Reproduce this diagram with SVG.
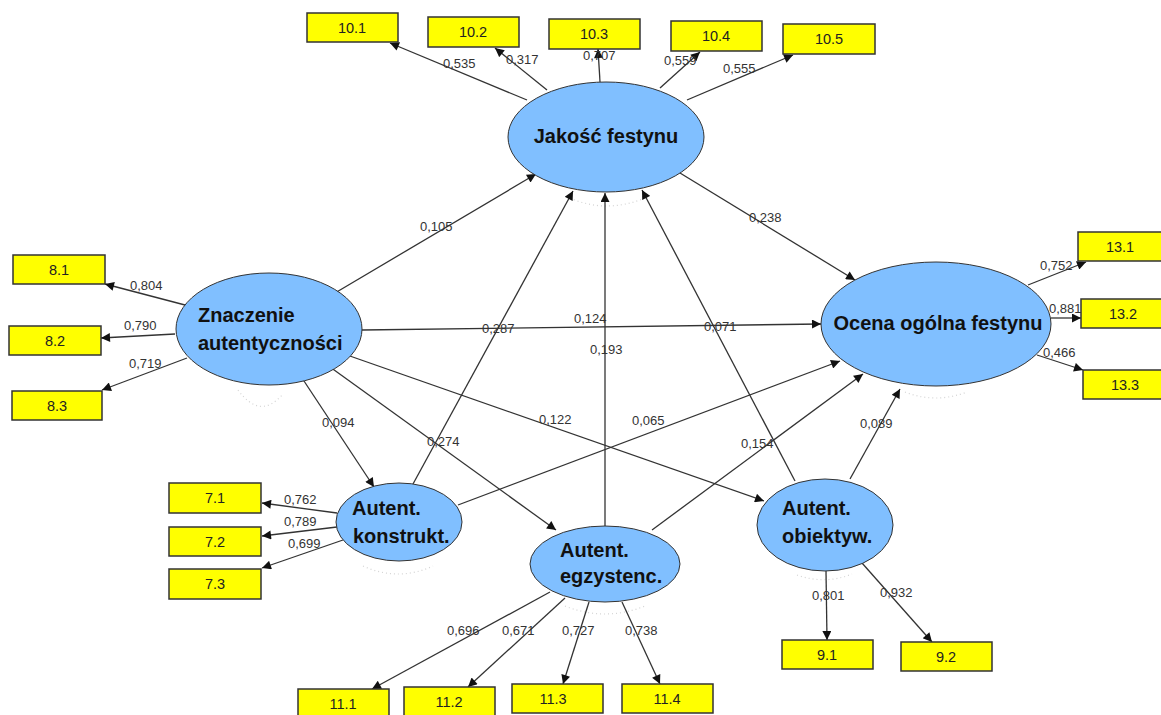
<svg xmlns="http://www.w3.org/2000/svg" width="1161" height="715" viewBox="0 0 1161 715">
<defs>
<marker id="ah" viewBox="0 0 10 10" refX="10" refY="5" markerWidth="11" markerHeight="9" markerUnits="userSpaceOnUse" orient="auto"><path d="M0,0 L10,5 L0,10 z" fill="#111"/></marker>
<style>
.c line{stroke:#333;stroke-width:1.3;marker-end:url(#ah)}
.lv{stroke:#333;stroke-width:1;fill:#80BFFF}
.lt{font-family:"Liberation Sans",Arial,sans-serif;font-weight:bold;font-size:20px;fill:#111}
.bx{fill:#FFFF00;stroke:#333;stroke-width:1.5}
.bt{font-family:"Liberation Sans",Arial,sans-serif;font-size:14.5px;fill:#222;text-anchor:middle}
.w{font-family:"Liberation Sans",Arial,sans-serif;font-size:13px;fill:#333}
.sh{fill:none;stroke:#d4d4d4;stroke-width:1.2;stroke-dasharray:1 3}
</style>
</defs>
<rect width="1161" height="715" fill="#fff"/>
<g id="shadows">
<path class="sh" d="M570,198 Q606,214 645,198"/>
<path class="sh" d="M238,390 Q260,420 282,395"/>
<path class="sh" d="M363,566 Q398,582 433,566"/>
<path class="sh" d="M565,606 Q605,622 645,606"/>
<path class="sh" d="M797,575 Q825,585 852,574"/>
<path class="sh" d="M905,392 Q935,404 967,392"/>
</g>
<g id="connectors" class="c">
<line x1="335" y1="293" x2="536" y2="174"/>
<line x1="413" y1="484" x2="573" y2="191"/>
<line x1="605" y1="527" x2="605" y2="193"/>
<line x1="795" y1="481" x2="642" y2="190"/>
<line x1="680" y1="173" x2="855" y2="280"/>
<line x1="362" y1="330" x2="821" y2="324"/>
<line x1="458" y1="505" x2="840" y2="361"/>
<line x1="652" y1="530" x2="863" y2="374"/>
<line x1="850" y1="479" x2="900" y2="389"/>
<line x1="302" y1="378" x2="374" y2="487"/>
<line x1="330" y1="367" x2="556" y2="530"/>
<line x1="347" y1="355" x2="764" y2="501"/>
<line x1="527" y1="100" x2="390" y2="43"/>
<line x1="547" y1="90" x2="495" y2="48"/>
<line x1="600" y1="82" x2="598" y2="49"/>
<line x1="660" y1="88" x2="700" y2="52"/>
<line x1="687" y1="100" x2="793" y2="55"/>
<line x1="185" y1="305" x2="105" y2="284"/>
<line x1="175" y1="334" x2="101" y2="338"/>
<line x1="187" y1="358" x2="102" y2="390"/>
<line x1="337" y1="513" x2="262" y2="503"/>
<line x1="337" y1="527" x2="262" y2="536"/>
<line x1="343" y1="540" x2="262" y2="568"/>
<line x1="550" y1="592" x2="372" y2="689"/>
<line x1="565" y1="598" x2="468" y2="687"/>
<line x1="589" y1="602" x2="563" y2="684"/>
<line x1="622" y1="602" x2="660" y2="684"/>
<line x1="826" y1="571" x2="827" y2="640"/>
<line x1="862" y1="563" x2="932" y2="642"/>
<line x1="1028" y1="285" x2="1086" y2="262"/>
<line x1="1051" y1="318" x2="1081" y2="318"/>
<line x1="1037" y1="355" x2="1083" y2="370"/>
</g>
<g id="weights" class="w">
<text x="443" y="68">0,535</text>
<text x="506" y="64">0,317</text>
<text x="583" y="60">0,707</text>
<text x="664" y="65">0,559</text>
<text x="723" y="73">0,555</text>
<text x="420" y="231">0,105</text>
<text x="482" y="333">0,287</text>
<text x="574" y="323">0,124</text>
<text x="590" y="354">0,193</text>
<text x="704" y="331">0,071</text>
<text x="539" y="424">0,122</text>
<text x="632" y="425">0,065</text>
<text x="322" y="427">0,094</text>
<text x="427" y="446">0,274</text>
<text x="749" y="222">0,238</text>
<text x="741" y="448">0,154</text>
<text x="860" y="428">0,089</text>
<text x="130" y="290">0,804</text>
<text x="124" y="330">0,790</text>
<text x="129" y="368">0,719</text>
<text x="284" y="504">0,762</text>
<text x="284" y="526">0,789</text>
<text x="288" y="548">0,699</text>
<text x="447" y="635">0,696</text>
<text x="502" y="635">0,671</text>
<text x="562" y="635">0,727</text>
<text x="625" y="635">0,738</text>
<text x="812" y="600">0,801</text>
<text x="880" y="597">0,932</text>
<text x="1040" y="270">0,752</text>
<text x="1049" y="313">0,881</text>
<text x="1043" y="357">0,466</text>
</g>
<g id="jakosc"><ellipse class="lv" cx="606" cy="137" rx="98" ry="55"/><text class="lt" x="606" y="143" text-anchor="middle">Jakość festynu</text></g>
<g id="znaczenie"><ellipse class="lv" cx="269" cy="329" rx="93" ry="56"/><text class="lt" x="198" y="322">Znaczenie</text><text class="lt" x="198" y="350">autentyczności</text></g>
<g id="ocena"><ellipse class="lv" cx="936" cy="324" rx="115" ry="62"/><text class="lt" x="938" y="330" text-anchor="middle">Ocena ogólna festynu</text></g>
<g id="konstrukt"><ellipse class="lv" cx="399" cy="522" rx="63" ry="39"/><text class="lt" x="352" y="515">Autent.</text><text class="lt" x="353" y="543">konstrukt.</text></g>
<g id="egzystenc"><ellipse class="lv" cx="605" cy="564" rx="75" ry="38"/><text class="lt" x="560" y="557">Autent.</text><text class="lt" x="560" y="583">egzystenc.</text></g>
<g id="obiektyw"><ellipse class="lv" cx="825" cy="525" rx="68" ry="46"/><text class="lt" x="782" y="515">Autent.</text><text class="lt" x="782" y="543">obiektyw.</text></g>
<g id="i10_1"><rect class="bx" x="307" y="13" width="91" height="29"/><text class="bt" x="352" y="33">10.1</text></g>
<g id="i10_2"><rect class="bx" x="428" y="17" width="91" height="30"/><text class="bt" x="473" y="37">10.2</text></g>
<g id="i10_3"><rect class="bx" x="549" y="19" width="91" height="30"/><text class="bt" x="594" y="39">10.3</text></g>
<g id="i10_4"><rect class="bx" x="671" y="21" width="91" height="30"/><text class="bt" x="716" y="41">10.4</text></g>
<g id="i10_5"><rect class="bx" x="783" y="24" width="92" height="30"/><text class="bt" x="829" y="44">10.5</text></g>
<g id="i8_1"><rect class="bx" x="13" y="255" width="92" height="29"/><text class="bt" x="59" y="275">8.1</text></g>
<g id="i8_2"><rect class="bx" x="9" y="326" width="92" height="29"/><text class="bt" x="55" y="346">8.2</text></g>
<g id="i8_3"><rect class="bx" x="12" y="391" width="90" height="29"/><text class="bt" x="57" y="411">8.3</text></g>
<g id="i7_1"><rect class="bx" x="169" y="483" width="92" height="30"/><text class="bt" x="215" y="503">7.1</text></g>
<g id="i7_2"><rect class="bx" x="169" y="527" width="92" height="29"/><text class="bt" x="215" y="547">7.2</text></g>
<g id="i7_3"><rect class="bx" x="169" y="569" width="92" height="30"/><text class="bt" x="215" y="589">7.3</text></g>
<g id="i11_1"><rect class="bx" x="298" y="689" width="91" height="30"/><text class="bt" x="343" y="709">11.1</text></g>
<g id="i11_2"><rect class="bx" x="404" y="687" width="91" height="30"/><text class="bt" x="449" y="707">11.2</text></g>
<g id="i11_3"><rect class="bx" x="512" y="684" width="91" height="29"/><text class="bt" x="553" y="704">11.3</text></g>
<g id="i11_4"><rect class="bx" x="622" y="684" width="91" height="29"/><text class="bt" x="667" y="704">11.4</text></g>
<g id="i9_1"><rect class="bx" x="782" y="640" width="91" height="29"/><text class="bt" x="827" y="660">9.1</text></g>
<g id="i9_2"><rect class="bx" x="901" y="642" width="91" height="29"/><text class="bt" x="946" y="662">9.2</text></g>
<g id="i13_1"><rect class="bx" x="1078" y="232" width="91" height="29"/><text class="bt" x="1120" y="252">13.1</text></g>
<g id="i13_2"><rect class="bx" x="1081" y="299" width="91" height="29"/><text class="bt" x="1123" y="319">13.2</text></g>
<g id="i13_3"><rect class="bx" x="1083" y="370" width="91" height="29"/><text class="bt" x="1125" y="390">13.3</text></g>
</svg>
